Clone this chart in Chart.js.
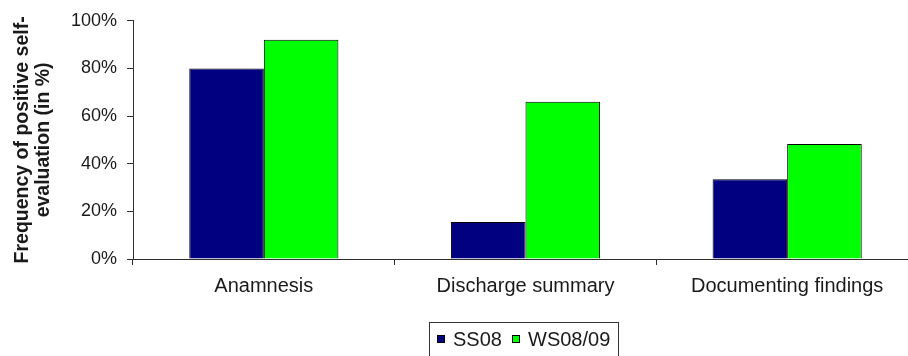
<!DOCTYPE html>
<html>
<head>
<meta charset="utf-8">
<script src="https://cdn.jsdelivr.net/npm/chart.js@4.4.1/dist/chart.umd.min.js"></script>
<style>
  html, body { margin: 0; padding: 0; background: #ffffff; }
  #wrap { position: relative; width: 908px; height: 356px; overflow: hidden; }
  #chart { position: absolute; left: 0; top: 0; }
  #legend {
    position: absolute; left: 429px; top: 322px; width: 190px; height: 40px;
    border: 1px solid #333; box-sizing: border-box;
    font-family: "Liberation Sans", Arial, sans-serif; font-size: 20px; color: #1a1a1a;
  }
  #legend .item { position: absolute; top: 4px; display: flex; align-items: center; height: 24px; }
  #legend .swatch { width: 8px; height: 8px; border: 1px solid #000; box-sizing: border-box; margin-right: 8px; }
</style>
</head>
<body>
<div id="wrap">
  <canvas id="chart" width="918" height="356"></canvas>
  <div id="legend"></div>
</div>
<script>
// Share of students rating themselves positively, per writing task and term
const categories = ['Anamnesis', 'Discharge summary', 'Documenting findings'];
const seriesNames = ['SS08', 'WS08/09'];
const ss08 = [80, 15.5, 33.5];
const ws0809 = [92, 66, 48.3];
const yTicks = [0, 20, 40, 60, 80, 100];

const fontFamily = '"Liberation Sans", Arial, sans-serif';
const axisColor = '#2e2e2e';
const textColor = '#1a1a1a';

const chart = new Chart(document.getElementById('chart'), {
  type: 'bar',
  data: {
    labels: categories,
    datasets: [
      { label: seriesNames[0], data: ss08, backgroundColor: '#000080', borderColor: '#000000', borderWidth: 1 },
      { label: seriesNames[1], data: ws0809, backgroundColor: '#00ff00', borderColor: '#000000', borderWidth: 1 }
    ]
  },
  options: {
    responsive: false,
    animation: false,
    layout: { padding: { top: 19, right: 0, left: 0, bottom: 0 } },
    datasets: { bar: { barPercentage: 1, categoryPercentage: 0.57 } },
    plugins: { legend: { display: false }, tooltip: { enabled: false } },
    scales: {
      x: {
        grid: { drawOnChartArea: false, drawTicks: true, tickLength: 6, color: axisColor, offset: true },
        border: { color: axisColor, width: 1 },
        ticks: { color: textColor, font: { family: fontFamily, size: 20 }, padding: 9, maxRotation: 0 },
        afterFit: (s) => { s.height = 356 - 259; }
      },
      y: {
        min: 0, max: 100,
        afterBuildTicks: (s) => { s.ticks = yTicks.map(v => ({ value: v })); },
        grid: { drawOnChartArea: false, drawTicks: true, tickLength: 6, color: axisColor },
        border: { color: axisColor, width: 1 },
        ticks: { color: textColor, font: { family: fontFamily, size: 18 }, padding: 10, callback: v => v + '%' },
        title: {
          display: true,
          text: ['Frequency of positive self-', 'evaluation (in %)'],
          color: textColor,
          font: { family: fontFamily, size: 19.5, weight: 'bold', lineHeight: 1.08 },
          padding: { top: 12, bottom: 0 }
        },
        afterFit: (s) => { s.width = 133; }
      }
    }
  }
});

// Legend built from the chart's datasets
const legend = document.getElementById('legend');
const itemLeft = [7, 82];
chart.data.datasets.forEach((ds, i) => {
  const item = document.createElement('div');
  item.className = 'item';
  item.style.left = itemLeft[i] + 'px';
  const sw = document.createElement('span');
  sw.className = 'swatch';
  sw.style.background = ds.backgroundColor;
  const txt = document.createElement('span');
  txt.textContent = ds.label;
  item.appendChild(sw);
  item.appendChild(txt);
  legend.appendChild(item);
});
</script>
</body>
</html>
